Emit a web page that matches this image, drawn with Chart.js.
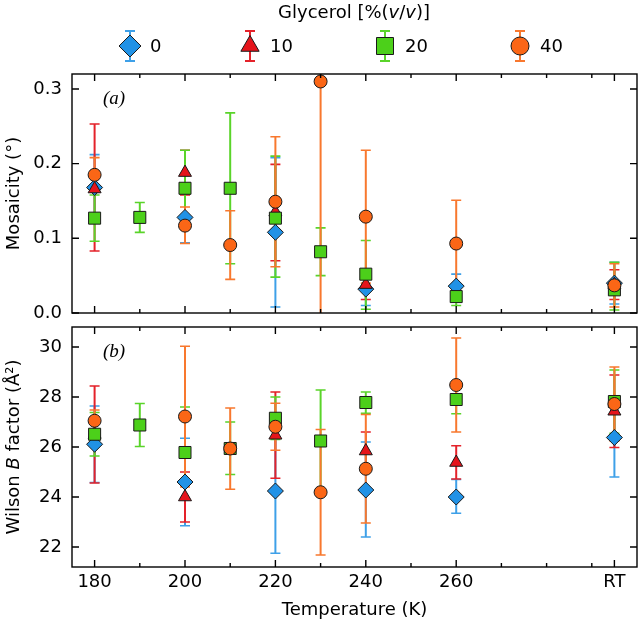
<!DOCTYPE html>
<html lang="en">
<head>
<meta charset="UTF-8" />
<title>Mosaicity and Wilson B factor vs temperature</title>
<script src="https://cdn.jsdelivr.net/npm/chart.js"></script>
<style>
  body { margin: 0; background: #fff; }
  #wrap { position: relative; width: 640px; height: 622px; overflow: hidden; }
  canvas { position: absolute; left: 0; }
  #topChart { top: 0; }
  #botChart { top: 306px; }
</style>
</head>
<body>
<div id="wrap">
  <canvas id="topChart" width="640" height="334"></canvas>
  <canvas id="botChart" width="640" height="316"></canvas>
</div>
<script>
// x positions (K); room temperature is put at 295
const tempPos = [180, 190, 200, 210, 220, 230, 240, 260, 295];
const xTickVals = [180, 200, 220, 240, 260, 295];
const xTickText = ['180', '200', '220', '240', '260', 'RT'];
const xMinorVals = [190, 210, 230, 250, 270, 280, 290];
const mosTicks = [0, 0.1, 0.2, 0.3];
const bTicks = [22, 24, 26, 28, 30];

const seriesNames = ['0', '10', '20', '40'];

// mosaicity (deg), value + error bar ends
const mos0   = [0.168, null, 0.128, null, 0.108, null, 0.032, 0.036, 0.040];
const mos0Lo = [0.124, null, 0.094, null, 0.008, null, 0.010, 0.020, 0.012];
const mos0Hi = [0.212, null, 0.162, null, 0.208, null, 0.054, 0.052, 0.068];
const mos10   = [0.166, null, 0.188, null, 0.135, null, 0.038, null, 0.038];
const mos10Lo = [0.083, null, 0.158, null, 0.070, null, 0.018, null, 0.018];
const mos10Hi = [0.253, null, 0.218, null, 0.199, null, 0.058, null, 0.058];
const mos20   = [0.127, 0.128, 0.167, 0.167, 0.127, 0.082, 0.052, 0.022, 0.031];
const mos20Lo = [0.096, 0.108, 0.116, 0.066, 0.048, 0.050, 0.005, 0.010, 0.004];
const mos20Hi = [0.158, 0.148, 0.218, 0.268, 0.210, 0.114, 0.097, 0.034, 0.068];
const mos40   = [0.185, null, 0.117, 0.091, 0.149, 0.310, 0.129, 0.093, 0.037];
const mos40Lo = [0.162, null, 0.093, 0.045, 0.062, -0.02, 0.040, 0.035, 0.008];
const mos40Hi = [0.208, null, 0.142, 0.137, 0.236, 0.640, 0.218, 0.151, 0.066];

// Wilson B factor (A^2)
const b0   = [26.11, null, 24.60, null, 24.24, null, 24.28, 24.00, 26.38];
const b0Lo = [24.58, null, 22.85, null, 21.75, null, 22.40, 23.35, 24.80];
const b0Hi = [27.64, null, 26.35, null, 26.73, null, 26.20, 24.70, 27.96];
const b10   = [26.50, null, 24.00, null, 26.47, null, 25.84, 25.38, 27.43];
const b10Lo = [24.56, null, 23.00, null, 24.75, null, 25.10, 24.72, 25.98];
const b10Hi = [28.44, null, 25.00, null, 28.20, null, 26.60, 26.05, 28.88];
const b20   = [26.51, 26.88, 25.78, 25.94, 27.15, 26.24, 27.78, 27.90, 27.82];
const b20Lo = [25.64, 26.02, 23.96, 24.90, 26.30, 24.20, 27.35, 27.33, 26.55];
const b20Hi = [27.38, 27.74, 27.60, 27.00, 28.00, 28.28, 28.20, 28.47, 29.08];
const b40   = [27.05, null, 27.22, 25.94, 26.81, 24.19, 25.13, 28.48, 27.72];
const b40Lo = [26.62, null, 24.40, 24.31, 25.87, 21.68, 22.96, 26.60, 26.24];
const b40Hi = [27.48, null, 30.03, 27.56, 27.75, 26.70, 27.30, 30.36, 29.20];

const markerStyles = ['rectRot', 'triangle', 'rect', 'circle'];
const markerRadius = [8, 7.5, 8.5, 6.5];
const fillColors = ['#2192e6', '#e5141b', '#4cd01a', '#fb6616'];
const barColors = ['#3ea0e8', '#e4222a', '#5ad42a', '#f8782e'];

const FONT = 'DejaVu Sans';

function buildDatasets(vals, los, his) {
  return vals.map((v, s) => ({
    label: seriesNames[s],
    data: tempPos.map((t, i) => ({ x: t, y: v[i], lo: los[s][i], hi: his[s][i] })).filter(p => p.y !== null),
    pointStyle: markerStyles[s],
    pointRadius: markerRadius[s],
    pointHoverRadius: markerRadius[s],
    backgroundColor: fillColors[s],
    borderColor: '#1a1a1a',
    pointBorderWidth: 1,
    errColor: barColors[s],
    showLine: false,
    order: 4 - s
  }));
}

// vertical error bars, drawn under the markers
const errorBars = {
  id: 'errorBars',
  beforeDatasetsDraw(chart) {
    const { ctx, chartArea: a, scales: { x, y } } = chart;
    ctx.save();
    ctx.beginPath();
    ctx.rect(a.left, a.top, a.right - a.left, a.bottom - a.top);
    ctx.clip();
    chart.data.datasets.forEach(ds => {
      ctx.strokeStyle = ds.errColor;
      ds.data.forEach(p => {
        const px = x.getPixelForValue(p.x);
        const lo = y.getPixelForValue(p.lo), hi = y.getPixelForValue(p.hi);
        ctx.lineWidth = 2;
        ctx.beginPath(); ctx.moveTo(px, lo); ctx.lineTo(px, hi); ctx.stroke();
        ctx.lineWidth = 1.6;
        ctx.beginPath();
        ctx.moveTo(px - 5, lo); ctx.lineTo(px + 5, lo);
        ctx.moveTo(px - 5, hi); ctx.lineTo(px + 5, hi);
        ctx.stroke();
      });
    });
    ctx.restore();
  }
};

function drawRich(ctx, parts, x, y, size, rotate) {
  // parts: [text, italic?]
  ctx.save();
  ctx.translate(x, y);
  if (rotate) ctx.rotate(-Math.PI / 2);
  const font = it => (it ? 'italic ' : '') + size + 'px "' + FONT + '"';
  let total = 0;
  parts.forEach(p => { ctx.font = font(p[1]); total += ctx.measureText(p[0]).width; });
  let cx = -total / 2;
  ctx.textBaseline = 'middle';
  ctx.textAlign = 'left';
  ctx.fillStyle = '#000';
  parts.forEach(p => { ctx.font = font(p[1]); ctx.fillText(p[0], cx, 0); cx += ctx.measureText(p[0]).width; });
  ctx.restore();
}

function marker(ctx, style, x, y, r) {
  ctx.beginPath();
  if (style === 'circle') {
    ctx.arc(x, y, r, 0, Math.PI * 2);
  } else if (style === 'rect') {
    ctx.rect(x - r, y - r, 2 * r, 2 * r);
  } else if (style === 'rectRot') {
    ctx.moveTo(x, y - r); ctx.lineTo(x + r, y); ctx.lineTo(x, y + r); ctx.lineTo(x - r, y);
  } else {
    ctx.moveTo(x, y - r); ctx.lineTo(x + r * 0.87, y + r * 0.5); ctx.lineTo(x - r * 0.87, y + r * 0.5);
  }
  ctx.closePath();
  ctx.fill();
  ctx.stroke();
}

// frame, inward ticks, y title, panel tag and (top only) the legend
const deco = {
  id: 'deco',
  afterDraw(chart, args, opts) {
    const { ctx, chartArea: a, scales: { x, y } } = chart;
    ctx.save();
    ctx.strokeStyle = '#000';
    ctx.lineWidth = 1.4;
    ctx.strokeRect(a.left, a.top, a.right - a.left, a.bottom - a.top);
    ctx.beginPath();
    const xt = (v, len) => {
      const px = x.getPixelForValue(v);
      ctx.moveTo(px, a.bottom); ctx.lineTo(px, a.bottom - len);
      ctx.moveTo(px, a.top); ctx.lineTo(px, a.top + len);
    };
    xTickVals.forEach(v => xt(v, 7));
    xMinorVals.forEach(v => xt(v, 4));
    opts.yTicks.forEach(v => {
      const py = y.getPixelForValue(v);
      ctx.moveTo(a.left, py); ctx.lineTo(a.left + 7, py);
      ctx.moveTo(a.right, py); ctx.lineTo(a.right - 7, py);
    });
    ctx.stroke();

    drawRich(ctx, opts.yTitle, 14, (a.top + a.bottom) / 2, 18, true);

    ctx.font = 'italic 19px "Liberation Serif"';
    ctx.fillStyle = '#000';
    ctx.textBaseline = 'middle';
    ctx.textAlign = 'left';
    ctx.fillText(opts.tag, a.left + 31, a.top + 25);

    if (opts.legend) {
      drawRich(ctx, [['Glycerol [%(', false], ['v', true], ['/', false], ['v', true], [')]', false]], 354, 13, 18, false);
      const lx = [130, 250, 385, 520];
      const legR = [11, 10.5, 8.5, 9];
      seriesNames.forEach((name, s) => {
        const cx = lx[s], cy = 46;
        ctx.strokeStyle = barColors[s];
        ctx.lineWidth = 2;
        ctx.beginPath();
        ctx.moveTo(cx, cy - 15); ctx.lineTo(cx, cy + 15);
        ctx.moveTo(cx - 5, cy - 15); ctx.lineTo(cx + 5, cy - 15);
        ctx.moveTo(cx - 5, cy + 15); ctx.lineTo(cx + 5, cy + 15);
        ctx.stroke();
        ctx.fillStyle = fillColors[s];
        ctx.strokeStyle = '#1a1a1a';
        ctx.lineWidth = 1;
        marker(ctx, markerStyles[s], cx, cy, legR[s]);
        ctx.fillStyle = '#000';
        ctx.font = '18px "' + FONT + '"';
        ctx.textAlign = 'left';
        ctx.textBaseline = 'middle';
        ctx.fillText(name, cx + 20, cy + 1);
      });
    }
    ctx.restore();
  }
};

function makeChart(id, datasets, yMin, yMax, yTicks, yFmt, isBottom, decoOpts) {
  return new Chart(document.getElementById(id), {
    type: 'scatter',
    data: { datasets },
    options: {
      responsive: false,
      animation: false,
      events: [],
      layout: {
        autoPadding: false,
        padding: isBottom ? { top: 21, right: 3, bottom: 0, left: 0 } : { top: 74, right: 3, bottom: 21, left: 0 }
      },
      plugins: { legend: { display: false }, tooltip: { enabled: false }, deco: decoOpts },
      scales: {
        x: {
          type: 'linear', min: 175, max: 300,
          display: isBottom,
          grid: { display: false, drawTicks: false },
          border: { display: false },
          afterBuildTicks: s => { s.ticks = xTickVals.map(v => ({ value: v })); },
          afterFit: s => { if (isBottom) s.height = 55; },
          ticks: {
            padding: 5, color: '#000', font: { family: FONT, size: 18 },
            callback: v => xTickText[xTickVals.indexOf(v)]
          },
          title: { display: true, text: 'Temperature (K)', color: '#000', font: { family: FONT, size: 18 }, padding: { top: 2, bottom: 1 } }
        },
        y: {
          min: yMin, max: yMax,
          grid: { display: false, drawTicks: false },
          border: { display: false },
          afterBuildTicks: s => { s.ticks = yTicks.map(v => ({ value: v })); },
          afterFit: s => { s.width = 72; },
          ticks: { padding: 10, color: '#000', font: { family: FONT, size: 18 }, callback: yFmt }
        }
      }
    },
    plugins: [errorBars, deco]
  });
}

makeChart('topChart',
  buildDatasets([mos0, mos10, mos20, mos40], [mos0Lo, mos10Lo, mos20Lo, mos40Lo], [mos0Hi, mos10Hi, mos20Hi, mos40Hi]),
  0, 0.32, mosTicks, v => v.toFixed(1), false,
  { yTicks: mosTicks, yTitle: [['Mosaicity (°)', false]], tag: '(a)', legend: true });

makeChart('botChart',
  buildDatasets([b0, b10, b20, b40], [b0Lo, b10Lo, b20Lo, b40Lo], [b0Hi, b10Hi, b20Hi, b40Hi]),
  21.2, 30.8, bTicks, v => String(v), true,
  { yTicks: bTicks, yTitle: [['Wilson ', false], ['B', true], [' factor (Å²)', false]], tag: '(b)', legend: false });
</script>
</body>
</html>
